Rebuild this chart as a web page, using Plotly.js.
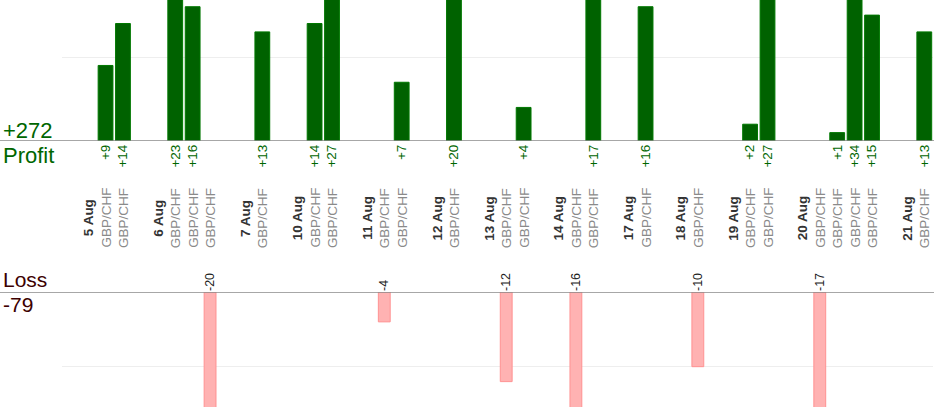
<!DOCTYPE html>
<html>
<head>
<meta charset="utf-8">
<script src="https://cdn.plot.ly/plotly-3.0.1.min.js"></script>
<style>
  html, body { margin: 0; padding: 0; background: #fff; }
  #chart { width: 934px; height: 420px; }
</style>
</head>
<body>
<div id="chart"></div>
<script>
// trading days and the result of each GBP/CHF trade on them
const days = ["5 Aug", "6 Aug", "7 Aug", "10 Aug", "11 Aug", "12 Aug", "13 Aug",
              "14 Aug", "17 Aug", "18 Aug", "19 Aug", "20 Aug", "21 Aug"];
const tradesPerDay = [2, 3, 1, 2, 2, 1, 2, 2, 1, 1, 2, 4, 1];
const pair = "GBP/CHF";
const results = [9, 14, 23, 16, -20, 13, 14, 27, -4, 7, 20, -12, 4, -16, 17,
                 16, -10, 2, 27, -17, 1, 34, 15, 13];

const font = "Liberation Sans, Arial, sans-serif";
const green = "#006600";
const H = 407; // plot area height in px (t=0, b=13)

// lay out slots: blank, day label, trades... per day
let slot = 0, k = 0;
let labelX = [], labelText = [];
let profitX = [], profitY = [], lossX = [], lossY = [];
days.forEach((d, i) => {
    slot += 1;
    labelX.push(slot); labelText.push("<b>" + d + "</b>");
    for (let j = 0; j < tradesPerDay[i]; j++) {
        slot += 1;
        labelX.push(slot); labelText.push(pair);
        let r = results[k++];
        if (r > 0) { profitX.push(slot); profitY.push(r); }
        else { lossX.push(slot); lossY.push(r); }
    }
    slot += 1;
});

let totalProfit = profitY.reduce((a, b) => a + b, 0);
let totalLoss = lossY.reduce((a, b) => a + b, 0);

let profits = {
    x: profitX, y: profitY, type: "bar", width: 0.85,
    xaxis: "x", yaxis: "y",
    marker: { color: "#006200", line: { color: "#007800", width: 1 } }
};

let losses = {
    x: lossX, y: lossY, type: "bar", width: 0.68,
    xaxis: "x2", yaxis: "y2",
    marker: { color: "#ffb2b2", line: { color: "#ff9292", width: 1 } }
};

function py(p) { return (H - p) / H; }

let annotations = labelX.map((x, i) => ({
    x: x, xref: "x", y: py(218), yref: "paper",
    text: labelText[i], textangle: -90, showarrow: false,
    xanchor: "center", yanchor: "middle",
    font: { family: font, size: 13.5, color: labelText[i] == pair ? "#8a8a8a" : "#333" }
}));

const lx = (1 - 62) / 871;
annotations.push(
    { text: "+" + totalProfit, x: lx, xref: "paper", y: py(130), yref: "paper",
      xanchor: "left", yanchor: "middle", showarrow: false, font: { family: font, size: 22, color: green } },
    { text: "Profit", x: lx, xref: "paper", y: py(155), yref: "paper",
      xanchor: "left", yanchor: "middle", showarrow: false, font: { family: font, size: 22, color: green } },
    { text: "Loss", x: lx, xref: "paper", y: py(279), yref: "paper",
      xanchor: "left", yanchor: "middle", showarrow: false, font: { family: font, size: 21, color: "#3d0000" } },
    { text: String(totalLoss), x: lx, xref: "paper", y: py(304), yref: "paper",
      xanchor: "left", yanchor: "middle", showarrow: false, font: { family: font, size: 21, color: "#3d0000" } }
);

let layout = {
    width: 934, height: 420,
    margin: { l: 62, r: 1, t: 0, b: 13 },
    paper_bgcolor: "#fff", plot_bgcolor: "#fff",
    showlegend: false, bargap: 0,
    font: { family: font },
    xaxis: {
        anchor: "y", range: [-0.5, 49.5], tickmode: "array",
        tickvals: profitX, ticktext: profitY.map(v => "+" + v), tickangle: -90,
        tickfont: { family: font, size: 13.5, color: green },
        showgrid: false, zeroline: false, showline: false, ticks: ""
    },
    yaxis: {
        domain: [py(141), 1], range: [0, 16.8], tickvals: [10],
        showticklabels: false, gridcolor: "#eeeeee", zeroline: false, showline: false
    },
    xaxis2: {
        anchor: "y2", side: "top", range: [-0.5, 49.5], tickmode: "array",
        tickvals: lossX, ticktext: lossY.map(String), tickangle: -90,
        tickfont: { family: font, size: 12.5, color: "#222" },
        showgrid: false, zeroline: false, showline: false, ticks: ""
    },
    yaxis2: {
        domain: [0, py(292)], range: [-15.4, 0], tickvals: [-10],
        showticklabels: false, gridcolor: "#eeeeee", zeroline: false, showline: false
    },
    shapes: [
        { type: "line", xref: "paper", yref: "y", x0: lx - 2 / 871, x1: 1.01, y0: 0, y1: 0,
          line: { color: "#8a8a8a", width: 1.5 } },
        { type: "line", xref: "paper", yref: "y2", x0: lx - 2 / 871, x1: 1.01, y0: 0, y1: 0,
          line: { color: "#8a8a8a", width: 1.5 } }
    ],
    annotations: annotations
};

Plotly.newPlot("chart", [profits, losses], layout, { displayModeBar: false, staticPlot: true });
</script>
</body>
</html>
